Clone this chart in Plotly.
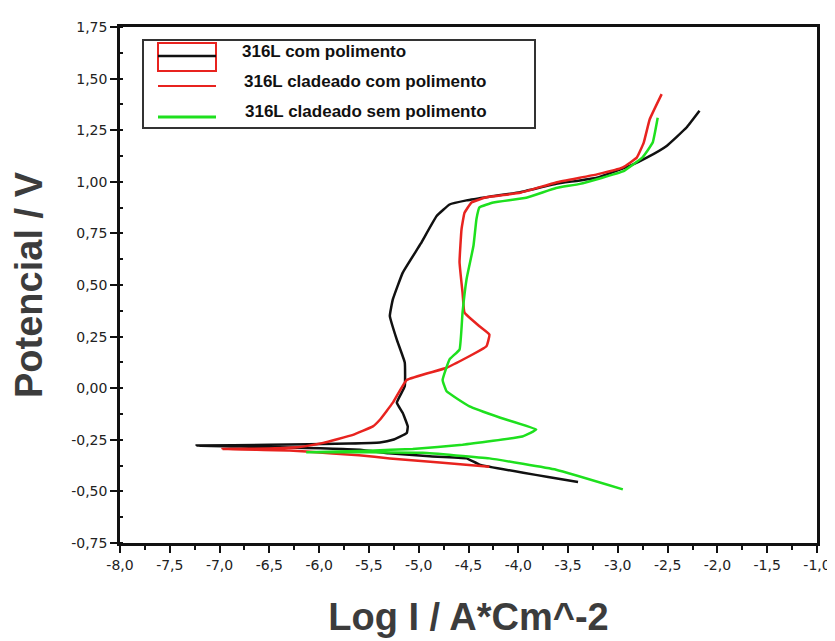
import plotly.graph_objects as go

# ---- data (log I, E) ----
black_logi = [-3.40, -3.70, -3.95, -4.39, -4.52, -4.89, -5.30, -5.59, -6.50, -7.23,
              -6.50, -5.70, -5.39, -5.26, -5.12, -5.11, -5.16, -5.22, -5.14, -5.14,
              -5.22, -5.29, -5.26, -5.16, -4.98, -4.82, -4.69, -4.52, -4.29, -3.98,
              -3.62, -3.21, -2.88, -2.71, -2.51, -2.31, -2.18]
black_e = [-0.454, -0.430, -0.410, -0.370, -0.340, -0.330, -0.315, -0.298, -0.285, -0.278,
           -0.274, -0.268, -0.263, -0.250, -0.217, -0.185, -0.120, -0.070, 0.009, 0.124,
           0.235, 0.350, 0.430, 0.560, 0.700, 0.834, 0.890, 0.910, 0.928, 0.950,
           0.990, 1.020, 1.077, 1.117, 1.174, 1.263, 1.344]

red_logi = [-4.29, -4.79, -5.29, -5.60, -6.13, -6.30, -6.97, -6.50, -6.20, -5.96,
            -5.66, -5.46, -5.39, -5.26, -5.12, -4.72, -4.32, -4.29, -4.39, -4.54,
            -4.56, -4.59, -4.57, -4.54, -4.47, -4.32, -3.98, -3.62, -3.21, -2.95,
            -2.81, -2.74, -2.68, -2.56]
red_e = [-0.380, -0.360, -0.340, -0.325, -0.307, -0.302, -0.295, -0.292, -0.285, -0.265,
         -0.226, -0.185, -0.153, -0.070, 0.040, 0.099, 0.203, 0.260, 0.300, 0.366,
         0.463, 0.610, 0.770, 0.850, 0.900, 0.925, 0.947, 0.997, 1.036, 1.070,
         1.117, 1.190, 1.303, 1.425]

green_logi = [-2.95, -3.62, -4.29, -4.96, -5.50, -6.13, -5.50, -5.06, -4.56, -3.96,
              -3.82, -4.18, -4.49, -4.72, -4.76, -4.69, -4.59, -4.56, -4.52, -4.45,
              -4.42, -4.39, -4.25, -3.92, -3.62, -3.38, -2.95, -2.75, -2.65, -2.60]
green_e = [-0.490, -0.395, -0.340, -0.313, -0.310, -0.310, -0.303, -0.294, -0.274, -0.234,
           -0.200, -0.143, -0.088, -0.015, 0.040, 0.140, 0.187, 0.366, 0.527, 0.690,
           0.820, 0.876, 0.900, 0.923, 0.970, 0.990, 1.050, 1.120, 1.190, 1.310]

series_names = ["316L com polimento", "316L cladeado com polimento", "316L cladeado sem polimento"]
series_colors = ["#111111", "#e8231f", "#1ee01e"]

x_tick_vals = [-8.0, -7.5, -7.0, -6.5, -6.0, -5.5, -5.0, -4.5, -4.0, -3.5, -3.0, -2.5, -2.0, -1.5, -1.0]
y_tick_vals = [-0.75, -0.50, -0.25, 0.00, 0.25, 0.50, 0.75, 1.00, 1.25, 1.50, 1.75]
x_tick_text = [f"{v:.1f}".replace(".", ",") for v in x_tick_vals]
y_tick_text = [f"{v:.2f}".replace(".", ",") for v in y_tick_vals]

x_title = "Log I / A*Cm^-2"
y_title = "Potencial / V"

# ---- layout geometry (page pixels; page body has an 8px offset) ----
OFF = 8
W, H = 835 - OFF, 641 - OFF
L, R, T, B = 120, 817, 27, 543  # plot area on the page


def px(x):
    return (x - L) / (R - L)


def py(y):
    return 1 - (y - T) / (B - T)


fig = go.Figure()
for xs, ys, name, col in zip([black_logi, red_logi, green_logi],
                             [black_e, red_e, green_e], series_names, series_colors):
    fig.add_trace(go.Scatter(x=xs, y=ys, mode="lines", name=name,
                             line=dict(color=col, width=2.5, shape="spline", smoothing=0.3),
                             showlegend=False))

tickfont = dict(family="DejaVu Sans", size=14, color="#222")
axis_common = dict(showline=True, linecolor="#111", linewidth=2.5, mirror=True,
                   ticks="outside", tickcolor="#111", tickwidth=2, ticklen=7,
                   showgrid=False, zeroline=False, tickfont=tickfont)

fig.update_xaxes(range=[-8.0, -1.0], tickmode="array", tickvals=x_tick_vals, ticktext=x_tick_text,
                 minor=dict(tickmode="linear", tick0=-8.0, dtick=0.25, ticks="outside", ticklen=4,
                            tickwidth=1.5, tickcolor="#111"),
                 title=dict(text=x_title, standoff=32,
                            font=dict(family="Liberation Sans, Arial", size=38, color="#3c3c3c", weight="bold")),
                 **axis_common)
fig.update_yaxes(range=[-0.75, 1.75], tickmode="array", tickvals=y_tick_vals, ticktext=y_tick_text,
                 minor=dict(tickmode="linear", tick0=-0.75, dtick=0.125, ticks="inside", ticklen=3,
                            tickwidth=1.5, tickcolor="#111"),
                 title=dict(text=y_title, standoff=27,
                            font=dict(family="Liberation Sans, Arial", size=38, color="#3c3c3c", weight="bold")),
                 **axis_common)

# ---- legend drawn manually ----
shapes = [
    dict(type="rect", xref="paper", yref="paper", x0=px(143), x1=px(535), y0=py(128), y1=py(40),
         line=dict(color="#333", width=2), fillcolor="white", layer="above"),
    dict(type="rect", xref="paper", yref="paper", x0=px(158), x1=px(216), y0=py(71), y1=py(43),
         line=dict(color="#e8231f", width=2), layer="above"),
    dict(type="line", xref="paper", yref="paper", x0=px(158), x1=px(216), y0=py(56), y1=py(56),
         line=dict(color="#111", width=2.5), layer="above"),
    dict(type="line", xref="paper", yref="paper", x0=px(158), x1=px(216), y0=py(86), y1=py(86),
         line=dict(color="#e8231f", width=2), layer="above"),
    dict(type="line", xref="paper", yref="paper", x0=px(158), x1=px(216), y0=py(117), y1=py(117),
         line=dict(color="#1ee01e", width=3), layer="above"),
]
annots = []
for name, xl, yc in zip(series_names, [240, 242, 243], [52, 82, 112]):
    annots.append(dict(text=name, xref="paper", yref="paper", x=px(xl), y=py(yc),
                       xanchor="left", yanchor="middle", showarrow=False,
                       font=dict(family="Liberation Sans, Arial", size=17, color="#111", weight="bold")))

fig.update_layout(width=W, height=H,
                  margin=dict(l=L - OFF, r=(W + OFF) - R, t=T - OFF, b=(H + OFF) - B, autoexpand=False),
                  paper_bgcolor="white", plot_bgcolor="white",
                  shapes=shapes, annotations=annots)

fig.write_html("out.html")
